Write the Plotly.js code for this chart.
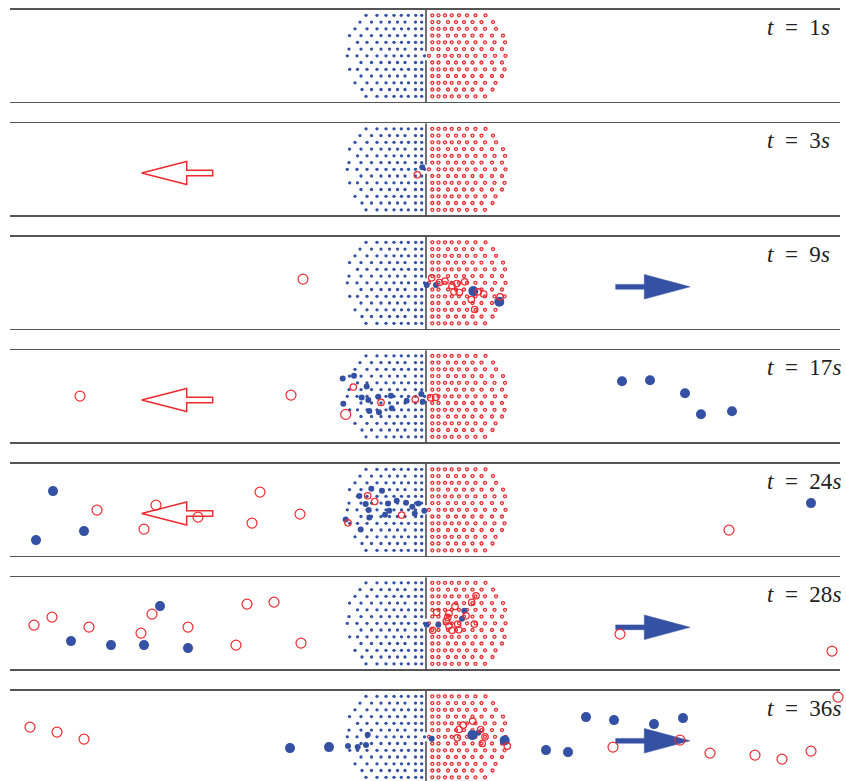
<!DOCTYPE html>
<html><head><meta charset="utf-8">
<script src="https://cdn.plot.ly/plotly-3.0.1.min.js"></script>
<style>html,body{margin:0;padding:0;background:#fff;overflow:hidden}</style>
</head><body><div id="chart" style="width:846px;height:781px"></div>
<script>
// ---------- DATA (panel-relative: dx from the central wall, dy from panel middle, downward positive) ----------
const timeLabels = ['1', '3', '9', '17', '24', '28', '36'];

// crystal lattice rows (same in every panel where undisturbed)
const rowDy = [-40.5, -33.7, -27, -20.2, -13.5, -6.7, 0, 6.7, 13.5, 20.2, 27, 33.7, 40.5];
const redRowDx = [
  [6.3, 12.5, 19, 25.7, 33, 41, 49.5, 59.5],
  [6.3, 12.5, 22, 30, 38, 46.5, 55.5, 67],
  [6.3, 12.5, 19, 25.7, 33, 41, 49.5, 59, 70],
  [6.3, 12.5, 22, 30, 38, 46.5, 55.5, 66, 77],
  [6.3, 12.5, 19, 25.7, 33, 41, 49.5, 59, 68.5, 79],
  [6.3, 12.5, 22, 30, 38, 46.5, 55.5, 66, 76],
  [3, 12.5, 19, 25.7, 33, 41, 49.5, 59, 69, 79.5],
  [6.3, 12.5, 22, 30, 38, 46.5, 55.5, 66, 76],
  [6.3, 12.5, 19, 25.7, 33, 41, 49.5, 59, 68.5, 78.5],
  [6.3, 12.5, 22, 30, 38, 46.5, 55.5, 66, 76],
  [6.3, 12.5, 19, 25.7, 33, 41, 49.5, 59, 69.5],
  [6.3, 12.5, 22, 30, 38, 46.5, 55.5, 66.5],
  [6.3, 12.5, 19, 25.7, 33, 41, 49.5, 59]
];
const blueRowDx = [
  [-4.3, -10.3, -17.7, -24.7, -32, -40, -49, -60],
  [-4.3, -10.5, -21, -28.5, -36.5, -45, -54.5, -66],
  [-4.3, -10.5, -17.5, -24.5, -32, -40, -49, -59, -71],
  [-4.3, -10.5, -21, -28.5, -36.5, -45, -54.5, -65, -76.5],
  [-4.3, -10.5, -17.5, -24.5, -32, -40, -49, -59, -68.5],
  [-4.3, -10.5, -21, -28.5, -36.5, -45, -54.5, -65, -77],
  [-1.5, -10.5, -17.5, -24.5, -32, -40, -49, -59, -69, -78.7],
  [-4.3, -10.5, -21, -28.5, -36.5, -45, -54.5, -65],
  [-4.3, -10.5, -17.5, -24.5, -32, -40, -49, -59, -68.5, -76.3],
  [-4.3, -10.5, -21, -28.5, -36.5, -45, -54.5, -65],
  [-4.3, -10.5, -17.5, -24.5, -32, -40, -49, -59, -71],
  [-4.3, -10.5, -21, -28.5, -36.5, -45, -54.5, -64],
  [-4.3, -10.3, -17.7, -24.7, -32, -40, -49, -60]
];

// energetic / escaped particles, one list per panel
const blueBigX = [[], [], [47.3, 73.3], [196, 224, 259, 275, 306], [-373, -390, -342, 385],
  [-355, -315, -282, -238, -266], [-136, -97, 78.7, 120, 142, 160, 188, 228, 257, 46.3]];
const blueBigY = [[], [], [8.3, 19], [-15, -16, -3, 18, 15], [-18.7, 30.3, 21.3, -6.7],
  [17.8, 21.8, 21.8, 24.8, -17.2], [11.3, 10.3, 3.6, 13.3, 15.3, -19.7, -16.7, -12.7, -18.7, -1.7]];
const blueMedX = [[], [-3.7], [0.7, 10],
  [-83.3, -72, -82.7, -64.3, -57.7, -56.7, -47.7, -47, -34.3, -35, -59.3, -4.7, -3.3, -19.3],
  [-80.3, -66.7, -60.3, -54.7, -57.3, -44, -38, -36.7, -41, -29.3, -20, -13.7, -11.3, -7.7, -1.7, -65.3, -56.7],
  [0.7, 12.3, 38.3, 36],
  [-78, -68.3, -60, -58.3, 5.7, 52.3]];
const blueMedY = [[], [-2], [2.3, 2.3],
  [-17.9, -20.5, 7.5, 1.1, 3.8, 14.8, 0.5, 16, 12, -0.5, -9.9, -2.2, 5.5, 4.5],
  [9.7, -13.7, -5.7, -21, 0.3, -19, -6.3, 1, 5, -9, -7, -3, 3.7, -6.3, 1, 19.7, 7.7],
  [1.5, 1.5, -12.5, -4.5],
  [9.3, 10.3, 8.3, -2, 2, -4]];
const redBigX = [[], [], [-123], [-346, -135, -80.3],
  [-329, -282, -228, -166, -174, -126, 303, -270],
  [-392, -374, -337, -274, -285, -238, -190, -179, -152, -125, 194, 406],
  [-396, -369, -342, 187, 254, 284, 329, 356, 385, 412]];
const redBigY = [[], [], [-3.7], [-0.2, -1.2, 18.1],
  [0.3, 19.3, 7.3, -17.7, 13.3, 4.3, 20.3, -4.7],
  [1.8, -6.2, 3.8, -9.2, 9.8, 3.8, 21.8, -19.2, -21.2, 19.8, 10.8, 27.8],
  [-9.7, -4.7, 2.3, 10.3, 3.3, 16.3, 18.3, 22.3, 14.3, -39.7]];
const redMedX = [[], [-8.7],
  [5.7, 13.3, 19, 26, 30.7, 28, 33.3, 38.7, 52.3, 57.7, 74, 45.3, 48.7],
  [-72.7, -45, -10.7, 4.7, 9.7],
  [-58.3, -51.3, -24.3, -78],
  [10.7, 21.7, 23, 20.3, 23, 29, 31.7, 40, 45.7, 50, 48.3, 32.7, 26, 6.7],
  [54.7, 59, 81.3, 31.3, 33, 46.7, 37.3, 56.3]];
const redMedY = [[], [5.5],
  [-5, -0.3, -1.7, 3, 0.7, 9, 9.7, -1, 9, 11.3, 14, 16.7, 26.7],
  [-9.2, 6.1, 3.1, 1.5, 1.1],
  [-14, -8.3, 5.3, 13],
  [-10.9, -5.9, -10, -1.9, 2.5, -16.9, 0.8, -7.5, -20.9, -27.5, 0.8, 6.5, 7, 7],
  [-7.3, 0, 9.3, 1, -7.3, -15.7, -11.7, 6.7]];
// flow arrow per panel
const arrowDir = ['', 'left', 'right', 'left', 'left', 'right', 'right'];

// ---------- STYLE / LAYOUT ----------
const W = 846, H = 781;
const BLUE = '#3451a3', RED = '#ec2a30', LINE = '#555';
const firstTop = 9.7, pitch = 113.5, panelH = 92.2, half = panelH / 2;

const traces = [];
const layout = {
  width: W, height: H, margin: {l: 0, r: 0, t: 0, b: 0, pad: 0},
  showlegend: false, paper_bgcolor: '#fff', plot_bgcolor: 'rgba(0,0,0,0)',
  shapes: [], annotations: []
};

const latticeBlueX = [], latticeBlueY = [], latticeRedX = [], latticeRedY = [];
rowDy.forEach((dy, i) => {
  blueRowDx[i].forEach(dx => { latticeBlueX.push(dx); latticeBlueY.push(dy); });
  redRowDx[i].forEach(dx => { latticeRedX.push(dx); latticeRedY.push(dy); });
});

for (let k = 0; k < 7; k++) {
  const s = k === 0 ? '' : String(k + 1);
  const xa = 'x' + s, ya = 'y' + s;
  const top = firstTop + pitch * k, bottom = top + panelH, mid = top + half;
  const clipped = bottom > H;
  layout['xaxis' + s] = {
    domain: [10 / W, 840 / W], range: [-416, 414], anchor: ya,
    showline: true, mirror: !clipped, side: clipped ? 'top' : 'bottom',
    linecolor: LINE, linewidth: 1.4, showgrid: false, zeroline: false,
    showticklabels: false, ticks: '', fixedrange: true
  };
  layout['yaxis' + s] = {
    domain: [Math.max(0, 1 - bottom / H), 1 - top / H],
    range: [clipped ? H - mid : half, -half], anchor: xa,
    showline: false, showgrid: false, zeroline: false,
    showticklabels: false, ticks: '', fixedrange: true
  };
  // central wall with small opening
  layout.shapes.push({type: 'line', xref: xa, yref: ya, x0: 0, x1: 0, y0: -half, y1: -4.5,
    line: {color: '#333', width: 1.4}});
  layout.shapes.push({type: 'line', xref: xa, yref: ya, x0: 0, x1: 0, y0: 4.5, y1: clipped ? H - mid : half,
    line: {color: '#333', width: 1.4}});
  // arrows
  if (arrowDir[k] === 'left') {
    layout.shapes.push({type: 'path', xref: xa, yref: ya,
      path: 'M -284.3 3.7 L -239.3 -7.8 L -239.3 0.9 L -213.3 0.9 L -213.3 6.5 L -239.3 6.5 L -239.3 15.2 Z',
      fillcolor: '#fff', line: {color: RED, width: 1.5}, layer: 'below'});
  } else if (arrowDir[k] === 'right') {
    layout.shapes.push({type: 'path', xref: xa, yref: ya,
      path: 'M 189.7 1.6 L 218.3 1.6 L 218.3 -8.3 L 264 4 L 218.3 16.3 L 218.3 6.4 L 189.7 6.4 Z',
      fillcolor: BLUE, line: {color: BLUE, width: 0.5}, layer: 'below'});
  }
  layout.annotations.push({xref: xa, yref: ya, x: 339, y: -28.6, xanchor: 'left', yanchor: 'middle',
    showarrow: false, text: '<i>t</i>\u2002=\u2002' + timeLabels[k] + '<i>s</i>',
    font: {family: 'Liberation Serif', size: 23, color: '#222'}});

  const common = {type: 'scatter', mode: 'markers', xaxis: xa, yaxis: ya, cliponaxis: false, hoverinfo: 'skip'};
  traces.push(Object.assign({}, common, {x: latticeBlueX, y: latticeBlueY,
    marker: {size: 3.3, color: BLUE, line: {width: 0}}}));
  traces.push(Object.assign({}, common, {x: latticeRedX, y: latticeRedY,
    marker: {symbol: 'circle-open', size: 3, color: RED, line: {width: 1.3}}}));
  traces.push(Object.assign({}, common, {x: blueMedX[k], y: blueMedY[k],
    marker: {size: 6, color: BLUE, line: {width: 0}}}));
  traces.push(Object.assign({}, common, {x: blueBigX[k], y: blueBigY[k],
    marker: {size: 10, color: BLUE, line: {width: 0}}}));
  traces.push(Object.assign({}, common, {x: redMedX[k], y: redMedY[k],
    marker: {symbol: 'circle-open', size: 6.5, color: RED, line: {width: 1.2}}}));
  traces.push(Object.assign({}, common, {x: redBigX[k], y: redBigY[k],
    marker: {symbol: 'circle-open', size: 10, color: RED, line: {width: 1.2}}}));
}

Plotly.newPlot('chart', traces, layout, {displayModeBar: false, staticPlot: true});
</script>
</body></html>
